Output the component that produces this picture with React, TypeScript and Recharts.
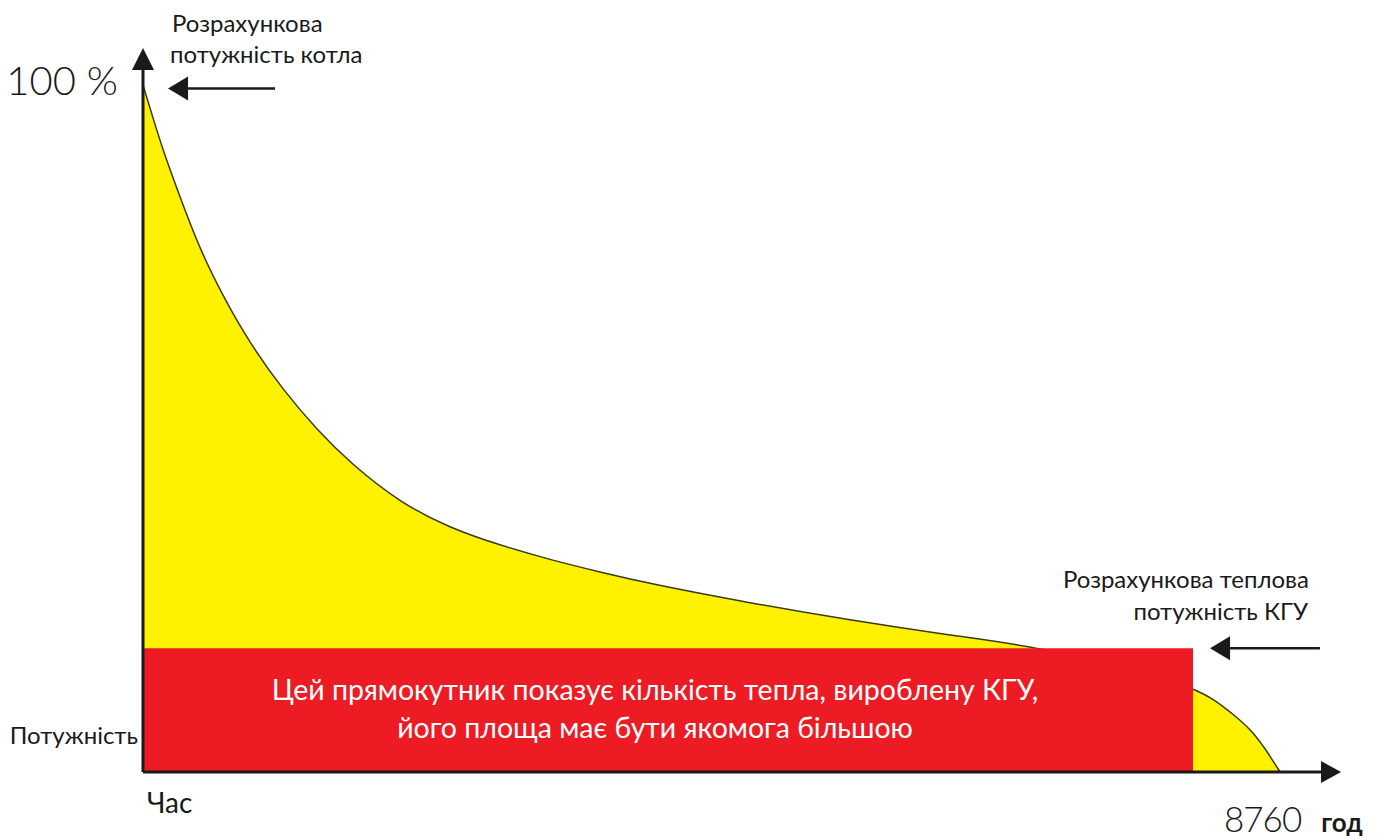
import React from 'react'
import {
  ComposedChart, Area, XAxis, YAxis, ReferenceArea, ReferenceLine,
} from 'recharts'

// ── Load duration curve of the boiler (hours of the year → % of design load) ──
const hours = [
  0, 77, 154, 285, 439, 632, 824, 1079, 1341, 1595, 1980, 2365, 2750, 3136,
  3521, 3906, 4677, 5447, 6218, 6911, 7758, 8090, 8259, 8398, 8529, 8644, 8760,
]
const loadPct = [
  100, 95.2, 90.5, 83.7, 76.0, 68.7, 62.4, 55.6, 49.8, 45.0, 39.2, 35.5, 33.0, 30.9,
  29.1, 27.4, 24.6, 22.1, 19.9, 18.2, 14.3, 12.2, 10.5, 8.4, 6.3, 3.5, 0,
]

// CHP rectangle: runs 8090 h at 18 % of boiler load
const chpHours = 8090
const chpLoad = 18
const yearHours = 8760
const yTop = 105.4
const xEnd = 9230

const rectText = [
  'Цей прямокутник показує кількість тепла, вироблену КГУ,',
  'його площа має бути якомога більшою',
]
const boilerNote = ['Розрахункова', 'потужність котла']
const chpNote = ['Розрахункова теплова', 'потужність КГУ']

const data = hours.map((h, i) => ({ h, p: loadPct[i] }))

const FONT = "Lato, 'Open Sans', sans-serif"
const INK = '#1a1a1a'

// ── Arrow drawn along a ReferenceLine segment ───────────────────────────────
function arrow(head: number, half: number, width: number, extra?: (p: any) => React.ReactNode) {
  return (p: any) => {
    const { x1, y1, x2, y2 } = p
    const dx = x2 - x1
    const dy = y2 - y1
    const len = Math.hypot(dx, dy) || 1
    const ux = dx / len
    const uy = dy / len
    const bx = x2 - ux * head
    const by = y2 - uy * head
    const pts = `${x2},${y2} ${bx - uy * half},${by + ux * half} ${bx + uy * half},${by - ux * half}`
    return (
      <g>
        <line x1={x1} y1={y1} x2={bx} y2={by} stroke={INK} strokeWidth={width} />
        <polygon points={pts} fill={INK} />
        {extra?.(p)}
      </g>
    )
  }
}

// vertical axis: "100 %" at the 100 mark, "Потужність" / "Час" by the origin
const yAxisShape = arrow(22, 11, 3, ({ x1, y1, y2 }) => {
  const y100 = y1 + (y2 - y1) * (100 / yTop)
  return (
    <g fontFamily={FONT} fill={INK}>
      <text x={x1 - 25} y={y100 + 10} fontSize={40} fontWeight={300} textAnchor="end">100 %</text>
      <text x={x1 - 5} y={y1 - 28} fontSize={24} textAnchor="end">Потужність</text>
      <text x={x1 + 4} y={y1 + 41} fontSize={28}>Час</text>
    </g>
  )
})

// horizontal axis: "8760 год" under the end of the year
const xAxisShape = arrow(20, 11, 3, ({ x1, y1, x2 }) => {
  const x8760 = x1 + (x2 - x1) * (yearHours / xEnd)
  return (
    <text x={x8760 - 56} y={y1 + 60} fontFamily={FONT} fill={INK}>
      <tspan fontSize={35} fontWeight={300} letterSpacing={-1}>{yearHours}</tspan>
      <tspan fontSize={26} fontWeight={700} dx={20}>год</tspan>
    </text>
  )
})

const boilerArrow = arrow(20, 12, 2.5, ({ x2, y2 }) => (
  <g fontFamily={FONT} fill={INK} fontSize={24}>
    <text x={x2 + 4} y={y2 - 56}>{boilerNote[0]}</text>
    <text x={x2 + 2} y={y2 - 25}>{boilerNote[1]}</text>
  </g>
))

const chpArrow = arrow(20, 12, 2.5, ({ x1, y1 }) => (
  <g fontFamily={FONT} fill={INK} fontSize={24} textAnchor="end">
    <text x={x1 - 11} y={y1 - 60}>{chpNote[0]}</text>
    <text x={x1 - 12} y={y1 - 28}>{chpNote[1]}</text>
  </g>
))

function RectLabel({ viewBox }: any) {
  if (!viewBox) return null
  const { x, y, width, height } = viewBox
  const cx = x + width / 2 - 13
  const cy = y + height / 2
  return (
    <g fontFamily={FONT} fill="#ffffff" fontSize={28.5} textAnchor="middle">
      <text x={cx} y={cy - 10}>{rectText[0]}</text>
      <text x={cx} y={cy + 28}>{rectText[1]}</text>
    </g>
  )
}

export default function App() {
  return (
    <div style={{ position: 'absolute', left: 0, top: 0, background: '#fff' }}>
      <ComposedChart
        width={1390}
        height={840}
        data={data}
        margin={{ top: 85, right: 110, left: 143, bottom: 68 }}
      >
        <XAxis type="number" dataKey="h" domain={[0, yearHours]} hide />
        <YAxis type="number" domain={[0, 100]} hide />
        <Area
          type="basis"
          dataKey="p"
          stroke="#3a3a20"
          strokeWidth={1.5}
          fill="#FFF200"
          fillOpacity={1}
          isAnimationActive={false}
        />
        <ReferenceArea
          x1={0}
          x2={chpHours}
          y1={0}
          y2={chpLoad}
          fill="#ED1C24"
          fillOpacity={1}
          stroke="none"
          ifOverflow="visible"
          label={<RectLabel />}
        />
        <ReferenceLine
          segment={[{ x: 0, y: 0 }, { x: 0, y: yTop }]}
          ifOverflow="visible"
          shape={yAxisShape}
        />
        <ReferenceLine
          segment={[{ x: 0, y: 0 }, { x: xEnd, y: 0 }]}
          ifOverflow="visible"
          shape={xAxisShape}
        />
        <ReferenceLine
          segment={[{ x: 1017, y: 99.5 }, { x: 193, y: 99.5 }]}
          ifOverflow="visible"
          shape={boilerArrow}
        />
        <ReferenceLine
          segment={[{ x: 9068, y: chpLoad }, { x: 8221, y: chpLoad }]}
          ifOverflow="visible"
          shape={chpArrow}
        />
      </ComposedChart>
    </div>
  )
}
